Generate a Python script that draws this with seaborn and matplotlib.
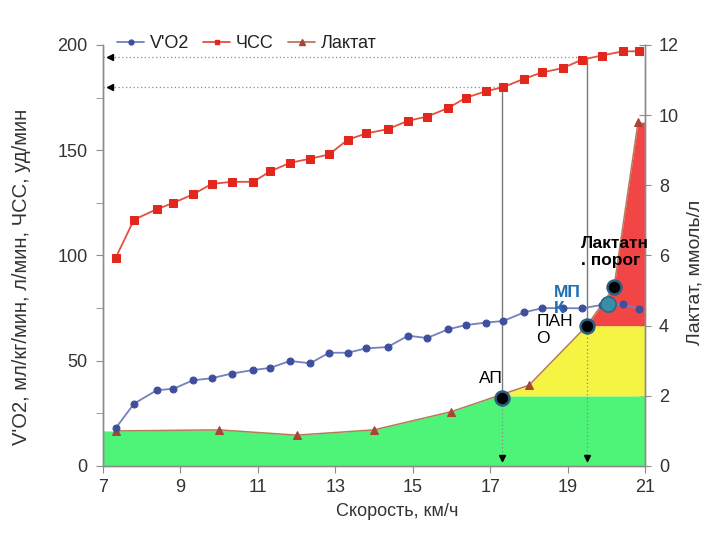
import numpy as np
import matplotlib
matplotlib.use("Agg")
import matplotlib.pyplot as plt
import seaborn as sns
from matplotlib.ticker import MultipleLocator
from matplotlib.lines import Line2D

# ---- data ----
speed = [7.33, 7.8, 8.39, 8.82, 9.32, 9.81, 10.32, 10.88, 11.32, 11.83, 12.35, 12.84, 13.32, 13.8,
         14.35, 14.88, 15.37, 15.91, 16.38, 16.89, 17.34, 17.88, 18.35, 18.87, 19.37, 19.88, 20.43, 20.85]
hr = [99, 117, 122, 125, 129, 134, 135, 135, 140, 144, 146, 148, 155, 158,
      160, 164, 166, 170, 175, 178, 180, 184, 187, 189, 193, 195, 197, 197]
vo2 = [18, 29.6, 36, 36.7, 40.7, 41.7, 43.9, 45.6, 46.6, 49.9, 48.8, 53.8, 53.8, 55.9,
       56.5, 61.9, 60.8, 64.9, 67, 68.1, 68.9, 73, 75, 75, 74.9, 76.5, 77, 74.5]
lac_speed = [7.33, 10.0, 12.0, 14.0, 16.0, 18.0, 19.5, 20.2, 20.82]
lactate = [1.0, 1.03, 0.88, 1.03, 1.55, 2.3, 4.0, 5.1, 9.8]

ap_speed, ap_lac = 17.3, 1.95
pano_speed, pano_lac = 19.5, 4.0
lt_speed, lt_lac = 20.2, 5.1
mpk_speed, mpk_vo2 = 20.05, 77.0

xticks = [7, 9, 11, 13, 15, 17, 19, 21]

sns.set_style("ticks")
plt.rcParams['font.family'] = ['Liberation Sans', 'DejaVu Sans']

fig = plt.figure(figsize=(7.2, 5.4), dpi=100)
ax = fig.add_axes([103/720, 1-466/540, (645-103)/720, (466-45)/540])
ax2 = ax.twinx()
ax.set_zorder(ax2.get_zorder() + 1)
ax.patch.set_visible(False)

ax.set_xlim(7, 21)
ax.set_ylim(0, 200)
ax2.set_ylim(0, 12)
scale = 200 / 12

# zone fills (lactate axis)
xs = np.linspace(7, 21, 3000)
lx = np.interp(xs, lac_speed, lactate)
green, yellow, red = '#4ef477', '#f6f442', '#f24646'
ax2.fill_between(xs, 0, np.minimum(lx, 2), color=green, lw=0)
ax2.fill_between(xs, 2, np.clip(lx, 2, 4), where=lx > 2, interpolate=True, color=yellow, lw=0)
ax2.fill_between(xs, 4, np.maximum(lx, 4), where=lx > 4, interpolate=True, color=red, lw=0)

# lactate line
sns.lineplot(x=lac_speed, y=lactate, ax=ax2, color='#b87a5a', lw=1.1, marker='^', ms=6,
             markerfacecolor='#a84438', markeredgecolor='#a84438', legend=False)

# guide lines (left axis)
hr_ap = np.interp(ap_speed, speed, hr)
hr_pano = np.interp(pano_speed, speed, hr) + 0.8
for sx, hv, lv in [(ap_speed, hr_ap, ap_lac), (pano_speed, hr_pano, pano_lac)]:
    ax.plot([sx, sx], [hv, lv*scale], color='#7a7a7a', lw=1.0, zorder=1)
    ax.plot([sx, sx], [lv*scale, 2], color='#8a8a8a', lw=0.9, ls=(0, (1, 2)), zorder=1)
    ax.plot(sx, 3.8, marker='v', color='black', ms=5, zorder=2)
    ax.plot([7, sx], [hv, hv], color='#8a8a8a', lw=0.9, ls=(0, (1, 2)), zorder=1)
    ax.plot(7.17, hv, marker='<', color='black', ms=5, zorder=2)

# HR and VO2
sns.lineplot(x=speed, y=hr, ax=ax, color='#e4503f', lw=1.3, marker='s', ms=5.5,
             markerfacecolor='#e2281c', markeredgecolor='#e2281c', legend=False, zorder=4)
sns.lineplot(x=speed, y=vo2, ax=ax, color='#7381bd', lw=1.3, marker='o', ms=5,
             markerfacecolor='#3e4f9d', markeredgecolor='#3e4f9d', legend=False, zorder=4)

# threshold markers (lactate values shown on the left-axis scale)
for sx, sy in [(ap_speed, ap_lac), (pano_speed, pano_lac), (lt_speed, lt_lac)]:
    ax.plot(sx, sy*scale, 'o', ms=10, markerfacecolor='black', markeredgecolor='#2b5f80',
            markeredgewidth=1.8, zorder=6)
ax.plot(mpk_speed, mpk_vo2, 'o', ms=11, markerfacecolor='#3a8da6', markeredgecolor='#2a6a86',
        markeredgewidth=1.2, zorder=6)

# annotation texts
ax.text(17.01, 41.8, 'АП', fontsize=12.5, ha='center', va='center', color='black', zorder=7)
ax.text(18.2, 72.0, 'ПАН\nО', fontsize=12.5, ha='left', va='top', color='black',
        linespacing=1.15, zorder=7)
ax.text(18.64, 86.0, 'МП\nК', fontsize=12.5, ha='left', va='top', color='#1f6fb4',
        fontweight='bold', linespacing=1.1, zorder=7)
ax.text(19.34, 109.5, 'Лактатн\n. порог', fontsize=12.5, ha='left', va='top', color='black',
        fontweight='bold', linespacing=1.2, zorder=7)

# axes styling
grey = '#8c8c8c'
for a in (ax, ax2):
    a.spines['top'].set_visible(False)
    for s in ('left', 'right', 'bottom'):
        a.spines[s].set_color(grey)
        a.spines[s].set_linewidth(1.0)
ax.set_xticks(xticks)
ax.yaxis.set_major_locator(MultipleLocator(50))
ax.yaxis.set_minor_locator(MultipleLocator(25))
ax2.yaxis.set_major_locator(MultipleLocator(2))
ax.tick_params(axis='x', direction='out', length=5, color=grey, labelsize=13, labelcolor='#333333', pad=4)
ax.tick_params(axis='y', which='both', direction='out', length=5, color=grey, labelsize=13,
               labelcolor='#333333', pad=6)
ax2.tick_params(axis='y', direction='inout', length=8, color=grey, labelsize=13,
                labelcolor='#333333', pad=6)

ax.set_xlabel('Скорость, км/ч', fontsize=13, color='#333333')
ax.set_ylabel("V'O2, мл/кг/мин, л/мин, ЧСС, уд/мин", fontsize=14.5, color='#333333')
ax2.set_ylabel('Лактат, ммоль/л', fontsize=14, color='#333333')
ax.xaxis.set_label_coords((397-103)/542, (466-503)/421)
ax.yaxis.set_label_coords((31-103)/542, 0.449)
ax2.yaxis.set_label_coords((686-103)/542, 0.461)

handles = [
    Line2D([], [], color='#7381bd', lw=1.3, marker='o', ms=3.5, markerfacecolor='#3e4f9d', markeredgecolor='#3e4f9d'),
    Line2D([], [], color='#e4503f', lw=1.3, marker='s', ms=3.5, markerfacecolor='#e2281c', markeredgecolor='#e2281c'),
    Line2D([], [], color='#b87a5a', lw=1.3, marker='^', ms=4, markerfacecolor='#a84438', markeredgecolor='#a84438'),
]
fig.legend(handles, ["V'O2", 'ЧСС', 'Лактат'], loc='center left', bbox_to_anchor=(108/720, 1-44/540),
           ncol=3, frameon=False, fontsize=13, handlelength=1.5, handletextpad=0.3,
           columnspacing=0.8, borderpad=0, labelcolor='#222222')

fig.savefig('out.png', dpi=100)
